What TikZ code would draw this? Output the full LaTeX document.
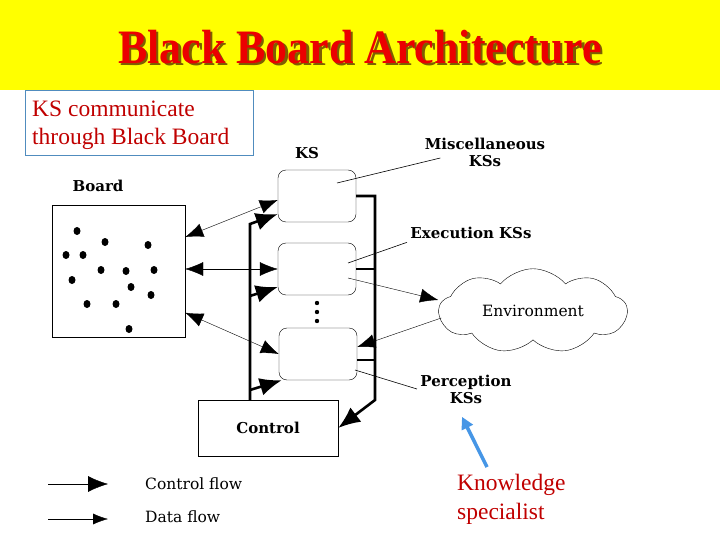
\documentclass[tikz,border=0pt]{standalone}
\usepackage{fontspec}
\setmainfont{Liberation Serif}
\newfontfamily\figfont{DejaVu Serif}
\usetikzlibrary{arrows.meta,shapes.symbols,calc}
\definecolor{titlebg}{RGB}{255,255,0}
\definecolor{titlered}{RGB}{235,0,0}
\definecolor{titleshade}{RGB}{125,95,0}
\definecolor{notered}{RGB}{192,0,0}
\definecolor{noteblue}{RGB}{80,140,190}
\definecolor{arrowblue}{RGB}{70,150,230}
\tikzset{
  >={Latex[length=18pt,width=14pt]},
  ksbox/.style={draw,rounded corners=8pt,minimum width=78pt,minimum height=52pt},
  lbl/.style={font=\figfont\bfseries\fontsize{15}{17}\selectfont,align=center},
  plain/.style={font=\figfont\fontsize{15.5}{17}\selectfont},
  ctrl/.style={line width=2.6pt,-{Latex[length=22pt,width=18pt]}},
  rail/.style={line width=2.6pt},
  data/.style={thin,->},
  leader/.style={line width=0.6pt},
  kspointer/.style={draw=arrowblue,line width=3.5pt,-{Triangle[length=12pt,width=12pt]}},
}
\begin{document}
\begin{tikzpicture}[x=1pt,y=-1pt]
\useasboundingbox (0,0) rectangle (720,540);
% Titulo
\fill[titlebg] (0,0) rectangle (720,90);
\node[text=titleshade,font=\bfseries\fontsize{48}{50}\selectfont,xscale=0.915] (titleshadow) at (362.5,49.5) {Black Board Architecture};
\node[text=titlered,font=\bfseries\fontsize{48}{50}\selectfont,xscale=0.915] (title) at (360,47) {Black Board Architecture};
\node[draw=noteblue,anchor=north west,minimum width=228pt,minimum height=65pt] (note) at (25,90) {};
\node[anchor=west,align=left,inner sep=0pt,text=notered,font=\fontsize{23.5}{28}\selectfont] (notetext) at ([xshift=7pt,yshift=-3pt]note.west) {KS communicate\\through Black Board};
% Tablero
\node[lbl] (boardlbl) at (98,186) {Board};
\node[draw,minimum width=133pt,minimum height=132pt] (board) at (118.5,271) {};
\foreach \x/\y in {77/231,105/242,148/245,66/255,83/255,101/270,126/271,154/270,72/280,131/287,151/295,87/304,116/304,129/329}
  \fill (\x,\y) ellipse (3.5 and 4);
% KS
\node[lbl] (kslbl) at (307,153) {KS};
\node[ksbox] (ks1) at (317,196) {};
\node[ksbox] (ks2) at (317,269) {};
\node[ksbox] (ks3) at (318,354) {};
\foreach \y in {303,312,321}
  \fill (317,\y) circle (2.2);
\node[draw,minimum width=140pt,minimum height=56pt,lbl] (control) at (268,428) {Control};
\node[cloud,draw,cloud puffs=9,cloud puff arc=100,aspect=2.4,minimum width=188pt,minimum height=84pt,plain] (env) at (533,311) {Environment};
\node[lbl] (misc) at (485,152) {Miscellaneous\\KSs};
\node[lbl] (exec) at (471,233) {Execution KSs};
\node[lbl] (perc) at (466,389) {Perception\\KSs};
% Control
\coordinate (ltop) at (250,224);
\coordinate (lmid) at (250,296);
\coordinate (llow) at (250,390);
\coordinate (lbot) at (250,400);
\coordinate (rbot) at (375,400);
\draw[ctrl] (lbot) -- (ltop) -- ([yshift=-18pt]ks1.west);
\draw[ctrl] (lmid) -- ([yshift=-18pt]ks2.west);
\draw[ctrl] (llow) -- ([xshift=3pt]ks3.south west);
\draw[ctrl] (ks1.east) -- (ks1.east -| rbot) -- (rbot) -- (control.east);
\draw[rail] (ks2.east) -- (ks2.east -| rbot);
\draw[rail] ([yshift=-6pt]ks3.east) -- ([yshift=-6pt]ks3.east -| rbot);
% Datos
\draw[data,<->] (board.27) -- ([yshift=-4pt]ks1.west);
\draw[data,<->] (ks2.west -| board.east) -- (ks2.west);
\draw[data,<->] (board.-32) -- (ks3.west);
\draw[data] ($(ks2.center)+(31,9)$) -- ([yshift=11pt]env.west);
\draw[data] ([xshift=3pt,yshift=-7pt]env.west) -- ([yshift=7pt]ks3.east);
\draw[leader] ($(ks1.center)+(20,-13)$) -- ($(misc.west)+(19,6)$);
\draw[leader] ($(ks2.center)+(31,-6)$) -- (exec.south west);
\draw[leader] ($(ks3.center)+(37,16)$) -- (perc.west);
% Leyenda
\coordinate (cf0) at (48,484);
\coordinate (cf1) at (108,484);
\coordinate (df0) at (48,519);
\coordinate (df1) at (108,519);
\draw[thin,-{Latex[length=20pt,width=16pt]}] (cf0) -- (cf1);
\draw[thin,-{Latex[length=15pt,width=11pt]}] (df0) -- (df1);
\node[anchor=west,inner xsep=0pt,plain] (cflow) at (145,484) {Control flow};
\node[anchor=west,inner xsep=0pt,plain] (dflow) at (145,517) {Data flow};
% Especialista
\node[anchor=north west,align=left,text=notered,font=\fontsize{23.5}{29}\selectfont,inner sep=0pt] (ksp) at (457,474) {Knowledge\\specialist};
\draw[kspointer] ($(ksp.north west)+(30,-7)$) -- ($(perc.south)+(-4,10)$);
\end{tikzpicture}
\end{document}
